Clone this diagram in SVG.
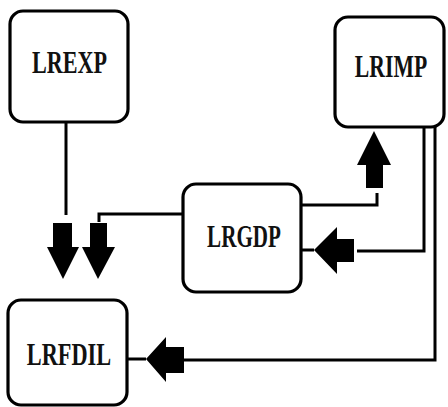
<svg xmlns="http://www.w3.org/2000/svg" width="448" height="407" viewBox="0 0 448 407">
<style>
.box{fill:#fff;stroke:#000;stroke-width:3.2}
.lbl{font-family:"Liberation Serif","Times New Roman",serif;font-weight:bold;font-size:31px;fill:#111;text-anchor:middle}
.ln{fill:none;stroke:#000;stroke-width:3}
.ar{fill:#000;stroke:none}
</style>
<rect width="448" height="407" fill="#fff"/>
<g id="connectors">
<path class="ln" d="M66,122 V215"/>
<polygon class="ar" points="53,223 72,223 72,247 79,247 63,279 47,247 53,247"/>
<path class="ln" d="M183,214 H99 V222"/>
<polygon class="ar" points="90,223 107,223 107,247 115,247 98,279 82,247 90,247"/>
<path class="ln" d="M301,205 H377 V193"/>
<polygon class="ar" points="374,131 391,165 383,165 383,188 366,188 366,165 357,165"/>
<path class="ln" d="M357,251 H424 V127"/>
<polygon class="ar" points="314,250 337,227 337,239 354,239 354,262 337,262 337,274"/>
<path class="ln" d="M301,250 H314"/>
<path class="ln" d="M184,360 H435 V127"/>
<polygon class="ar" points="146,359 166,337 166,347 184,347 184,373 166,373 166,382"/>
<path class="ln" d="M127,359 H146"/>
</g>
<g id="LREXP">
<rect class="box" x="10" y="11" width="118" height="111" rx="13"/>
<text class="lbl" transform="translate(69.5,73) scale(0.714,1)">LREXP</text>
</g>
<g id="LRIMP">
<rect class="box" x="335" y="17" width="109" height="110" rx="13"/>
<text class="lbl" transform="translate(391,77) scale(0.70,1)">LRIMP</text>
</g>
<g id="LRGDP">
<rect class="box" x="183" y="184" width="118" height="108" rx="13"/>
<text class="lbl" transform="translate(244,247) scale(0.68,1)">LRGDP</text>
</g>
<g id="LRFDIL">
<rect class="box" x="8" y="300" width="119" height="105" rx="13"/>
<text class="lbl" transform="translate(69,365) scale(0.72,1)">LRFDIL</text>
</g>
</svg>
